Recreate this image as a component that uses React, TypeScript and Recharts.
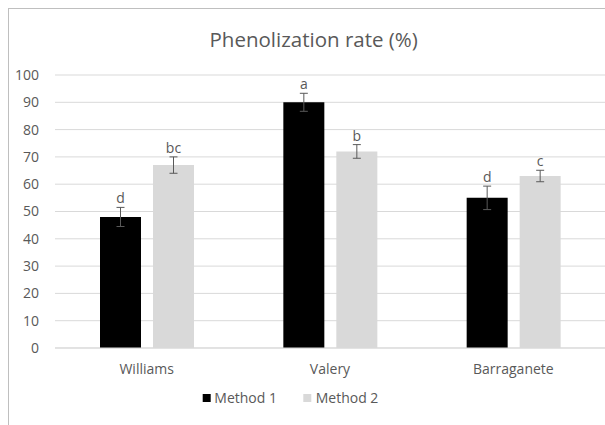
import React from 'react';
import { BarChart, Bar, XAxis, YAxis, CartesianGrid, ErrorBar, LabelList } from 'recharts';

const categories = ['Williams', 'Valery', 'Barraganete'];
const method1 = [48, 90, 55];
const method1Err = [3.5, 3.3, 4.3];
const method1Letters = ['d', 'a', 'd'];
const method2 = [67, 72, 63];
const method2Err = [3, 2.5, 2.1];
const method2Letters = ['bc', 'b', 'c'];
const yTicks = [0, 10, 20, 30, 40, 50, 60, 70, 80, 90, 100];
const seriesNames = ['Method 1', 'Method 2'];
const title = 'Phenolization rate (%)';

const data = categories.map((name, i) => ({
  name,
  m1: method1[i],
  m1Err: method1Err[i],
  m2: method2[i],
  m2Err: method2Err[i],
}));

const FONT = '"Open Sans", sans-serif';
const TEXT = '#595959';

const makeLetterLabel = (letters: string[], errs: number[]) => (props: any) => {
  const { x, y, width, height, value, index } = props;
  const pxPerUnit = value ? height / value : 0;
  const errTop = y - errs[index] * pxPerUnit;
  return (
    <text
      x={x + width / 2}
      y={errTop - 4}
      textAnchor="middle"
      fontFamily={FONT}
      fontSize={14}
      fill={TEXT}
    >
      {letters[index]}
    </text>
  );
};

export default function App() {
  return (
    <div
      style={{
        position: 'absolute',
        left: 8,
        top: 8,
        width: 597,
        height: 417,
        boxSizing: 'border-box',
        borderLeft: '1px solid #bfbfbf',
        borderTop: '1px solid #bfbfbf',
        overflow: 'hidden',
        background: '#fff',
      }}
    >
      <div style={{ position: 'absolute', left: 0, top: 0 }}>
        <BarChart
          width={596}
          height={416}
          data={data}
          margin={{ top: 66, right: 0, bottom: 47, left: 0 }}
          barGap={12}
          barSize={41}
        >
          <CartesianGrid vertical={false} stroke="#d9d9d9" />
          <XAxis
            dataKey="name"
            height={30}
            tickLine={false}
            tickSize={0}
            tickMargin={16}
            axisLine={{ stroke: '#d9d9d9' }}
            tick={{ fill: TEXT, fontSize: 14, fontFamily: FONT }}
            interval={0}
          />
          <YAxis
            width={46}
            domain={[0, 100]}
            ticks={yTicks}
            interval={0}
            axisLine={false}
            tickLine={false}
            tickSize={0}
            tickMargin={16}
            tick={{ fill: TEXT, fontSize: 14, fontFamily: FONT }}
          />
          <Bar dataKey="m1" name={seriesNames[0]} fill="#000000" isAnimationActive={false}>
            <ErrorBar dataKey="m1Err" width={4} stroke="#595959" strokeWidth={1} direction="y" isAnimationActive={false} />
            <LabelList dataKey="m1" content={makeLetterLabel(method1Letters, method1Err)} />
          </Bar>
          <Bar dataKey="m2" name={seriesNames[1]} fill="#d9d9d9" isAnimationActive={false}>
            <ErrorBar dataKey="m2Err" width={4} stroke="#595959" strokeWidth={1} direction="y" isAnimationActive={false} />
            <LabelList dataKey="m2" content={makeLetterLabel(method2Letters, method2Err)} />
          </Bar>
        </BarChart>
      </div>
      <svg
        width={596}
        height={416}
        style={{ position: 'absolute', left: 0, top: 0, pointerEvents: 'none' }}
      >
        <text x={304.7} y={37.7} textAnchor="middle" fontFamily={FONT} fontSize={20.5} fill={TEXT}>
          {title}
        </text>
        <rect x={193.7} y={385} width={8} height={8} fill="#000000" />
        <text x={205.3} y={394.3} fontFamily={FONT} fontSize={14} fill={TEXT}>
          {seriesNames[0]}
        </text>
        <rect x={294.3} y={385} width={8} height={8} fill="#d9d9d9" />
        <text x={306.7} y={394.3} fontFamily={FONT} fontSize={14} fill={TEXT}>
          {seriesNames[1]}
        </text>
      </svg>
    </div>
  );
}
